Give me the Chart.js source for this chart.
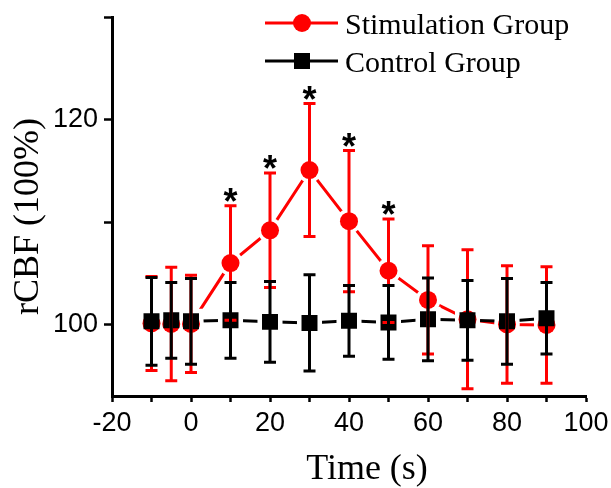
<!DOCTYPE html>
<html><head><meta charset="utf-8">
<script src="https://cdn.jsdelivr.net/npm/chart.js@4.4.1/dist/chart.umd.min.js"></script>
<style>html,body{margin:0;padding:0;background:#fff;}</style>
</head><body>
<canvas id="c" width="611" height="488"></canvas>
<script>
// ---- data ----
const times   = [-10, -5, 0, 10, 20, 30, 40, 50, 60, 70, 80, 90];
const stim    = [100.1, 100.05, 100.05, 106.0, 109.2, 115.1, 110.1, 105.25, 102.4, 100.5, 100.0, 99.95];
const stimErr = [4.6, 5.55, 4.75, 5.6, 5.6, 6.5, 6.9, 5.05, 5.3, 6.8, 5.75, 5.7];
const ctrl    = [100.3, 100.4, 100.3, 100.4, 100.25, 100.15, 100.35, 100.2, 100.5, 100.4, 100.3, 100.6];
const ctrlErr = [4.3, 3.7, 4.2, 3.7, 3.95, 4.7, 3.45, 3.6, 4.05, 3.9, 4.2, 3.5];
const sigTimes = [10, 20, 30, 40, 50];
const xTickLabels = [-20, 0, 20, 40, 60, 80, 100];
const yTickLabels = [100, 120];
const seriesNames = ['Stimulation Group', 'Control Group'];
const xTitle = 'Time (s)';
const yTitle = 'rCBF (100%)';

const RED = '#ff0000', BLACK = '#000000', WHITE = '#ffffff';
const toPts = (vals) => times.map((t, i) => ({x: t, y: vals[i]}));

const CIRCLE_R = 9, SQUARE_R = 11.3;

const plugin = {
  id: 'extras',
  afterDatasetsDraw(chart) {
    const {ctx, scales: {x, y}} = chart;
    const CAP = 6;
    const bars = (vals, errs, color) => {
      ctx.save();
      ctx.strokeStyle = color; ctx.lineWidth = 3; ctx.lineCap = 'butt';
      times.forEach((t, i) => {
        const px = x.getPixelForValue(t);
        const top = y.getPixelForValue(vals[i] + errs[i]);
        const bot = y.getPixelForValue(vals[i] - errs[i]);
        ctx.beginPath();
        ctx.moveTo(px, top); ctx.lineTo(px, bot);
        ctx.moveTo(px - CAP, top); ctx.lineTo(px + CAP, top);
        ctx.moveTo(px - CAP, bot); ctx.lineTo(px + CAP, bot);
        ctx.stroke();
      });
      ctx.restore();
    };
    bars(stim, stimErr, RED);
    bars(ctrl, ctrlErr, BLACK);
    // significance stars
    ctx.save();
    ctx.fillStyle = BLACK;
    ctx.font = 'bold 36px "Liberation Sans"';
    ctx.textAlign = 'center';
    ctx.textBaseline = 'alphabetic';
    const m = ctx.measureText('*');
    sigTimes.forEach(t => {
      const i = times.indexOf(t);
      const px = x.getPixelForValue(t);
      const top = y.getPixelForValue(stim[i] + stimErr[i]);
      const cy = top - 11;
      const base = cy + (m.actualBoundingBoxAscent - m.actualBoundingBoxDescent) / 2;
      ctx.fillText('*', px, base);
    });
    ctx.restore();
  },
  afterDraw(chart) {
    const {ctx} = chart;
    ctx.save();
    // legend
    const rows = [
      {y: 23, color: RED, style: 'circle', label: seriesNames[0], base: 34},
      {y: 61, color: BLACK, style: 'rect', label: seriesNames[1], base: 72}
    ];
    rows.forEach(r => {
      ctx.strokeStyle = r.color; ctx.lineWidth = 3;
      ctx.beginPath(); ctx.moveTo(265, r.y); ctx.lineTo(338, r.y); ctx.stroke();
      ctx.fillStyle = r.color;
      if (r.style === 'circle') {
        ctx.beginPath(); ctx.arc(302, r.y, CIRCLE_R, 0, Math.PI * 2); ctx.fill();
      } else {
        ctx.fillRect(302 - 8, r.y - 8, 16, 16);
      }
      ctx.fillStyle = BLACK;
      ctx.font = '30px "Liberation Serif"';
      ctx.textAlign = 'left'; ctx.textBaseline = 'alphabetic';
      ctx.fillText(r.label, 345, r.base);
    });
    // axis titles
    ctx.font = '36px "Liberation Serif"';
    ctx.textAlign = 'center'; ctx.textBaseline = 'alphabetic';
    ctx.fillText(xTitle, 367, 479);
    ctx.translate(38, 216.5);
    ctx.rotate(-Math.PI / 2);
    ctx.fillText(yTitle, 0, 0);
    ctx.restore();
  }
};

new Chart(document.getElementById('c'), {
  type: 'line',
  data: {
    datasets: [
      {label: 'ctrlMarkers', data: toPts(ctrl), showLine: false, pointStyle: 'rect',
       pointRadius: SQUARE_R, pointBackgroundColor: BLACK, pointBorderWidth: 0, order: 0},
      {label: 'stimMarkers', data: toPts(stim), showLine: false, pointStyle: 'circle',
       pointRadius: CIRCLE_R, pointBackgroundColor: RED, pointBorderWidth: 0, order: 1},
      {label: 'ctrlGap', data: toPts(ctrl), showLine: false, pointStyle: 'rect',
       pointRadius: 17.7, pointBackgroundColor: WHITE, pointBorderWidth: 0, order: 2},
      {label: 'stimGap', data: toPts(stim), showLine: false, pointStyle: 'circle',
       pointRadius: 12.5, pointBackgroundColor: WHITE, pointBorderWidth: 0, order: 3},
      {label: 'ctrlLine', data: toPts(ctrl), borderColor: BLACK, borderWidth: 3,
       pointRadius: 0, tension: 0, order: 4},
      {label: 'stimLine', data: toPts(stim), borderColor: RED, borderWidth: 3,
       pointRadius: 0, tension: 0, order: 5}
    ]
  },
  options: {
    responsive: false,
    animation: false,
    events: [],
    layout: {padding: {left: 0, right: 25, top: 13, bottom: 0}},
    plugins: {legend: {display: false}, tooltip: {enabled: false}},
    scales: {
      x: {
        type: 'linear', min: -20, max: 100,
        ticks: {stepSize: 10, color: BLACK, padding: 5, maxRotation: 0, autoSkip: false,
          font: {family: 'Liberation Sans', size: 27},
          callback: v => xTickLabels.includes(v) ? String(v) : ''},
        grid: {drawOnChartArea: false, drawTicks: true, tickLength: 6, tickColor: BLACK, tickWidth: 2.5},
        border: {display: true, color: BLACK, width: 3},
        afterFit(s) { s.height = 92; s.paddingLeft = 0; s.paddingRight = 0; }
      },
      y: {
        type: 'linear', min: 93, max: 130,
        ticks: {stepSize: 10, includeBounds: false, color: BLACK, padding: 6,
          font: {family: 'Liberation Sans', size: 27},
          callback: v => yTickLabels.includes(v) ? String(v) : ''},
        grid: {drawOnChartArea: false, drawTicks: true, tickLength: 8, tickColor: BLACK, tickWidth: 2.5},
        border: {display: true, color: BLACK, width: 3},
        afterFit(s) { s.width = 112; s.paddingTop = 0; s.paddingBottom = 0; }
      }
    }
  },
  plugins: [plugin]
});
</script>
</body></html>
